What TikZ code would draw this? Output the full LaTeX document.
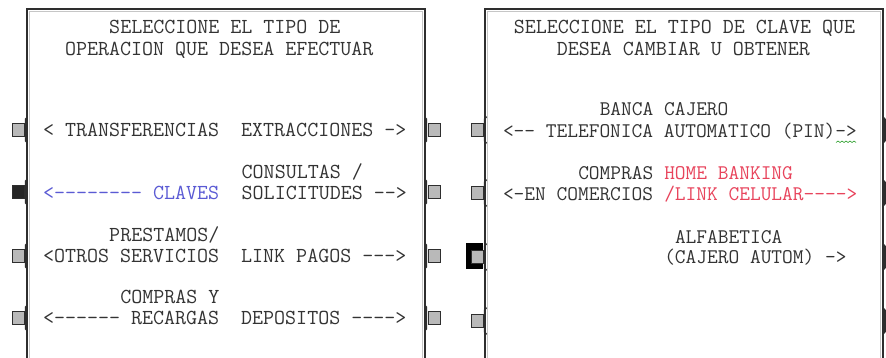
\documentclass[tikz,border=0pt]{standalone}
\usepackage{fontspec}
\usetikzlibrary{calc}
\definecolor{txt}{HTML}{333333}
\definecolor{bluetxt}{HTML}{5A5AD4}
\definecolor{redtxt}{HTML}{E8445C}
\definecolor{edgecol}{HTML}{2E2E2E}
\definecolor{btngray}{HTML}{B9B9B9}
\newcommand\colL[1]{43+#1*11.04}
\newcommand\colR[1]{503+#1*10.75}
\begin{document}
\begin{tikzpicture}[x=1pt,y=-1pt,
  lblL/.style={anchor=base west, inner sep=0pt, outer sep=0pt, text=txt,
    font=\ttfamily\fontsize{21.38}{24}\selectfont},
  lblR/.style={lblL, font=\ttfamily\fontsize{20.82}{24}\selectfont},
  boxline/.style={draw=edgecol, line width=1.6pt},
  boxshade/.style={draw=gray!45, line width=0.8pt},
  btn/.style={draw=edgecol, fill=btngray, line width=0.8pt, minimum width=12pt,
    minimum height=13pt, inner sep=0pt},
  btndark/.style={btn, fill=black!85},
  flange/.style={draw=edgecol, line width=1.4pt, line cap=round},
  squiggle/.style={draw=green!55!black, line width=0.5pt}]
\useasboundingbox (0,0) rectangle (886,358);
\clip (0,0) rectangle (886,358);
\fill[white] (0,0) rectangle (886,358);

% panels
\draw[boxshade] (29.5,11.5) rectangle (422.5,380);
\draw[boxline] (27,9) rectangle (425,380);
\draw[boxshade] (487.5,11.5) rectangle (880.5,380);
\draw[boxline] (485,9) rectangle (883,380);

% ---------- left panel text ----------
\node[lblL] (h1) at ({\colL{6}},33.5) {SELECCIONE EL TIPO DE};
\node[lblL] (h2) at ({\colL{2}},55.5) {OPERACION QUE DESEA EFECTUAR};
\node[lblL] (r1) at ({\colL{0}},136.5) {< TRANSFERENCIAS~~EXTRACCIONES ->};
\node[lblL] (r2a) at ({\colL{18}},178.5) {CONSULTAS /};
\node[lblL, text=bluetxt] (r2b) at ({\colL{0}},199.5) {<-------- CLAVES};
\node[lblL] (r2c) at ({\colL{18}},199.5) {SOLICITUDES -->};
\node[lblL] (r3a) at ({\colL{6}},241.5) {PRESTAMOS/};
\node[lblL] (r3b) at ({\colL{0}},262.5) {<OTROS SERVICIOS~~LINK PAGOS --->};
\node[lblL] (r4a) at ({\colL{7}},303.5) {COMPRAS Y};
\node[lblL] (r4b) at ({\colL{0}},324) {<------ RECARGAS~~DEPOSITOS ---->};

% ---------- right panel text ----------
\node[lblL] (k1) at ({\colR{1}},33.5) {SELECCIONE EL TIPO DE CLAVE QUE};
\node[lblL] (k2) at ({\colR{5}},55.5) {DESEA CAMBIAR U OBTENER};
\node[lblR] (s1a) at ({\colR{9}},115.5) {BANCA CAJERO};
\node[lblR] (s1b) at ({\colR{0}},137.5) {<-- TELEFONICA AUTOMATICO (PIN)->};
\node[lblR] (s2a) at ({\colR{7}},179.5) {COMPRAS};
\node[lblR, text=redtxt] (s2b) at ({\colR{15}},179.5) {HOME BANKING};
\node[lblR] (s2c) at ({\colR{0}},200.5) {<-EN COMERCIOS};
\node[lblR, text=redtxt] (s2d) at ({\colR{15}},200.5) {/LINK CELULAR---->};
\node[lblR] (s3a) at ({\colR{16}},243.5) {ALFABETICA};
\node[lblR] (s3b) at ({\colR{15}},263.5) {(CAJERO AUTOM) ->};
% spell-check underline
\draw[squiggle] (836,142.5) -- (838,141) -- (840,142.5) -- (842,141) -- (844,142.5)
  -- (846,141) -- (848,142.5) -- (850,141) -- (852,142.5) -- (854,141) -- (856,142.5);

% ---------- buttons: left panel, left side ----------
\node[btn] (bA1) at (18,130) {};
\node[btndark] (bA2) at (18,192) {};
\node[btn] (bA3) at (18,256) {};
\node[btn] (bA4) at (18,318) {};
\foreach \b in {bA1,bA2,bA3,bA4}{
  \draw[flange] ($(\b.east)+(3,-13)$) -- ($(\b.east)+(1.2,-11)$) -- ($(\b.east)+(1.2,11)$) -- ($(\b.east)+(3,13)$);
}
% left panel, right side
\node[btn] (bB1) at (434,130) {};
\node[btn] (bB2) at (434,192) {};
\node[btn] (bB3) at (434,256) {};
\node[btn] (bB4) at (434,318) {};
\foreach \b in {bB1,bB2,bB3,bB4}{
  \draw[flange] ($(\b.west)+(-3,-13)$) -- ($(\b.west)+(-1.2,-11)$) -- ($(\b.west)+(-1.2,11)$) -- ($(\b.west)+(-3,13)$);
}
% right panel, left side
\fill[black] (466,243) rectangle (483,269);
\node[btn] (bC1) at (477,130) {};
\node[btn] (bC2) at (477,193) {};
\node[btn] (bC3) at (477,257) {};
\node[btn] (bC4) at (477,321) {};
\foreach \b in {bC1,bC2,bC3,bC4}{
  \draw[flange] ($(\b.east)+(3,-13)$) -- ($(\b.east)+(1.2,-11)$) -- ($(\b.east)+(1.2,11)$) -- ($(\b.east)+(3,13)$);
}
% right panel, right side (cut by the picture edge)
\node[btn] (bD1) at (893,130) {};
\node[btn] (bD2) at (893,193) {};
\node[btn] (bD3) at (893,257) {};
\node[btn] (bD4) at (893,321) {};
\foreach \b in {bD1,bD2,bD3,bD4}{
  \draw[flange, line width=2.2pt] ($(\b.west)+(-3,-12)$) -- ($(\b.west)+(-1.5,-10)$) -- ($(\b.west)+(-1.5,10)$) -- ($(\b.west)+(-3,12)$);
}
\end{tikzpicture}
\end{document}
